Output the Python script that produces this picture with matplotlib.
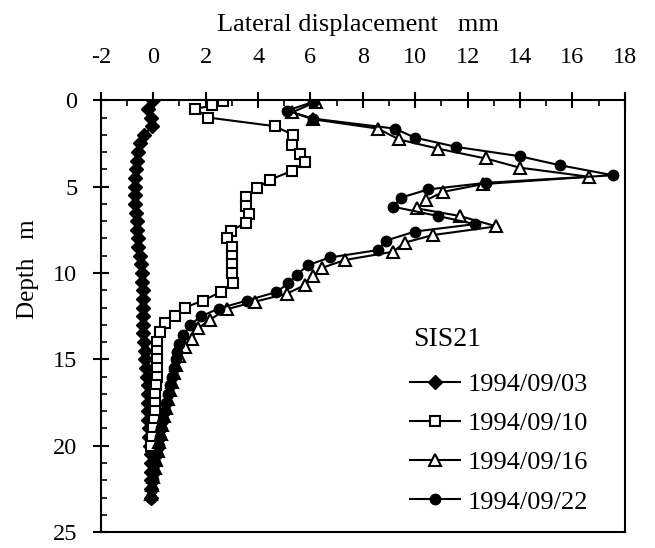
import matplotlib.pyplot as plt
from matplotlib.ticker import MultipleLocator

# 1994/09/03 (filled diamonds)
depth_0903 = [0, 0.5, 1.0, 1.5, 2.0, 2.5, 3.0, 3.5, 4.0, 4.5, 5.0, 5.5, 6.0, 6.5, 7.0, 7.5,
              8.0, 8.5, 9.0, 9.5, 10.0, 10.5, 11.0, 11.5, 12.0, 12.5, 13.0, 13.5, 14.0, 14.5,
              15.0, 15.5, 16.0, 16.5, 17.0, 17.5, 18.0, 18.5, 19.0, 19.5, 20.0, 20.5, 21.0,
              21.5, 22.0, 22.5, 23.0]
disp_0903 = [0.0, -0.2, -0.1, -0.05, -0.35, -0.5, -0.58, -0.62, -0.65, -0.68, -0.7, -0.7,
             -0.68, -0.66, -0.64, -0.62, -0.6, -0.57, -0.52, -0.47, -0.44, -0.42, -0.4, -0.4,
             -0.39, -0.39, -0.39, -0.38, -0.37, -0.33, -0.3, -0.27, -0.24, -0.22, -0.2, -0.2,
             -0.2, -0.2, -0.18, -0.15, -0.13, -0.1, -0.08, -0.07, -0.07, -0.07, -0.07]

# 1994/09/10 (open squares)
depth_0910 = [0.04, 0.3, 0.5, 1.0, 1.5, 2.0, 2.6, 3.1, 3.6, 4.1, 4.6, 5.1, 5.6, 6.1, 6.6, 7.1,
              7.55, 8.0, 8.5, 9.0, 9.5, 10.0, 10.56, 11.1, 11.6, 12.0, 12.5, 12.9, 13.4, 14.0,
              14.5, 15.0, 15.5, 16.0, 16.5, 17.0, 17.5, 18.0, 18.5, 19.0, 19.5, 20.0]
disp_0910 = [2.66, 2.26, 1.6, 2.1, 4.64, 5.33, 5.28, 5.6, 5.78, 5.28, 4.45, 3.95, 3.53, 3.53,
             3.65, 3.53, 2.96, 2.8, 3.0, 3.0, 3.0, 3.0, 3.03, 2.57, 1.9, 1.2, 0.82, 0.44, 0.25,
             0.15, 0.13, 0.13, 0.13, 0.13, 0.1, 0.08, 0.06, 0.06, 0.03, 0.0, -0.05, -0.1]

# 1994/09/16 (open triangles)
depth_0916 = [0.1, 0.7, 1.1, 1.64, 2.27, 2.8, 3.37, 3.9, 4.43, 4.85, 5.3, 5.8, 6.26, 6.7, 7.3,
              7.8, 8.24, 8.77, 9.25, 9.7, 10.2, 10.7, 11.2, 11.66, 12.1, 12.7, 13.2, 13.8,
              14.3, 14.8, 15.3, 15.8, 16.3, 16.8, 17.3, 17.8, 18.3, 18.8, 19.3, 19.8, 20.3,
              20.8, 21.3, 21.8, 22.3, 22.8]
disp_0916 = [6.2, 5.3, 6.1, 8.58, 9.38, 10.87, 12.69, 13.99, 16.64, 12.6, 11.06, 10.4, 10.07,
             11.7, 13.1, 10.68, 9.6, 9.15, 7.3, 6.45, 6.1, 5.79, 5.09, 3.88, 2.8, 2.16, 1.72,
             1.46, 1.2, 1.0, 0.85, 0.78, 0.7, 0.62, 0.55, 0.47, 0.4, 0.34, 0.28, 0.22, 0.17,
             0.12, 0.06, 0.0, -0.05, -0.08]

# 1994/09/22 (filled circles)
depth_0922 = [0.1, 0.6, 1.06, 1.64, 2.16, 2.7, 3.24, 3.76, 4.34, 4.78, 5.16, 5.63, 6.16, 6.7,
              7.17, 7.6, 8.13, 8.67, 9.1, 9.54, 10.1, 10.6, 11.1, 11.6, 12.06, 12.5, 13.0,
              13.6, 14.1, 14.6, 15.0, 15.5, 16.0, 16.5, 17.0, 17.5, 18.0, 18.5, 19.0, 19.5,
              20.0, 20.5, 21.0, 21.5, 22.0, 22.5, 23.0]
disp_0922 = [6.1, 5.1, 6.1, 9.22, 9.98, 11.57, 13.99, 15.52, 17.55, 12.69, 10.49, 9.47, 9.15,
             10.87, 12.27, 9.98, 8.87, 8.58, 6.74, 5.91, 5.48, 5.15, 4.7, 3.56, 2.49, 1.84,
             1.4, 1.15, 1.0, 0.9, 0.85, 0.8, 0.72, 0.65, 0.58, 0.5, 0.43, 0.37, 0.3, 0.25,
             0.2, 0.15, 0.08, 0.02, 0.0, -0.05, -0.08]

plt.rcParams['font.family'] = 'Liberation Serif'
plt.rcParams['axes.unicode_minus'] = False

fig = plt.figure(figsize=(6.55, 5.48), dpi=100)
ax = fig.add_axes([0.154, 0.029, 0.800, 0.788])

lw = 1.5
ax.plot(disp_0903, depth_0903, color='black', lw=lw, marker='D', ms=7,
        mfc='black', mec='black', label='1994/09/03')
ax.plot(disp_0910, depth_0910, color='black', lw=lw, marker='s', ms=7.5,
        mfc='white', mec='black', mew=1.5, label='1994/09/10')
ax.plot(disp_0916, depth_0916, color='black', lw=lw, marker='^', ms=8,
        mfc='white', mec='black', mew=1.5, label='1994/09/16')
ax.plot(disp_0922, depth_0922, color='black', lw=lw, marker='o', ms=7.5,
        mfc='black', mec='black', label='1994/09/22')

ax.set_xlim(-2, 18)
ax.set_ylim(25, 0)
ax.xaxis.set_major_locator(MultipleLocator(2))
ax.xaxis.set_minor_locator(MultipleLocator(1))
ax.yaxis.set_major_locator(MultipleLocator(5))
ax.yaxis.set_minor_locator(MultipleLocator(1))
ax.xaxis.tick_top()
ax.tick_params(which='major', direction='inout', length=12, width=1.5, labelsize=17.5)
ax.tick_params(which='minor', direction='in', length=4, width=1.2)
ax.tick_params(axis='x', which='both', top=True, bottom=False, pad=17)
ax.tick_params(axis='y', which='both', left=True, right=False, pad=11)
for s in ax.spines.values():
    s.set_linewidth(1.5)

ax.text(0.49, 1.174, 'Lateral displacement   mm', transform=ax.transAxes,
        ha='center', va='center', fontsize=19)
ax.text(-0.139, 0.61, 'Depth   m', transform=ax.transAxes, rotation=90,
        ha='center', va='center', fontsize=18)

ax.text(0.595, 0.445, 'SIS21', transform=ax.transAxes, ha='left', va='center',
        fontsize=20)
ax.legend(loc='upper left', bbox_to_anchor=(0.59, 0.37), frameon=False,
          fontsize=19, handlelength=1.9, handletextpad=0.3, labelspacing=0.6,
          borderpad=0, borderaxespad=0)

fig.savefig('out.png', dpi=100)
